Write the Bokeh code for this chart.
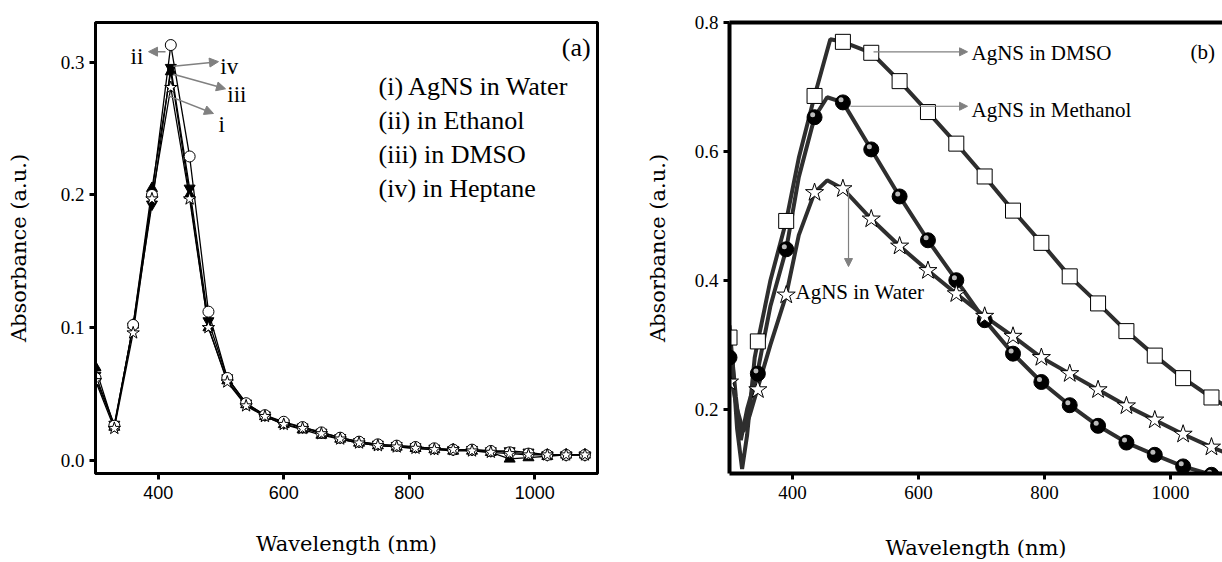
from bokeh.plotting import figure
from bokeh.layouts import row
from bokeh.models import FixedTicker, PrintfTickFormatter, Label, Arrow, NormalHead, LinearAxis
from bokeh.transform import dodge
from bokeh.embed import file_html
from bokeh.resources import INLINE

# ---------------- Panel (a) data ----------------
wl_a = [300, 330, 360, 390, 420, 450, 480, 510, 540, 570, 600, 630, 660, 690,
        720, 750, 780, 810, 840, 870, 900, 930, 960, 990, 1020, 1050, 1080]
a_water = [0.060, 0.024, 0.096, 0.197, 0.281, 0.197, 0.100, 0.059, 0.041, 0.033, 0.027, 0.024, 0.020, 0.016,
           0.013, 0.011, 0.010, 0.009, 0.008, 0.008, 0.007, 0.006, 0.005, 0.004, 0.004, 0.004, 0.004]
a_ethanol = [0.062, 0.026, 0.102, 0.200, 0.313, 0.229, 0.112, 0.062, 0.043, 0.034, 0.029, 0.025, 0.021, 0.017,
             0.014, 0.012, 0.011, 0.010, 0.009, 0.008, 0.008, 0.007, 0.006, 0.005, 0.004, 0.004, 0.004]
a_dmso = [0.070, 0.025, 0.102, 0.205, 0.293, 0.200, 0.100, 0.060, 0.042, 0.033, 0.027, 0.023, 0.019, 0.016,
          0.013, 0.011, 0.010, 0.009, 0.008, 0.007, 0.007, 0.006, 0.001, 0.002, 0.003, 0.004, 0.004]
a_heptane = [0.064, 0.027, 0.101, 0.193, 0.296, 0.205, 0.105, 0.062, 0.043, 0.034, 0.028, 0.025, 0.021, 0.017,
             0.014, 0.012, 0.011, 0.010, 0.009, 0.008, 0.008, 0.007, 0.007, 0.006, 0.004, 0.004, 0.004]
a_legend = ["(i) AgNS in Water", "(ii) in Ethanol", "(iii) in DMSO", "(iv) in Heptane"]
a_xticks = [400, 600, 800, 1000]
a_yticks = [0.0, 0.1, 0.2, 0.3]

# ---------------- Panel (b) data ----------------
wl_b = [300, 345, 390, 435, 480, 525, 570, 615, 660, 705, 750, 795, 840, 885, 930, 975, 1020, 1065]
b_dmso = [0.311, 0.305, 0.492, 0.686, 0.770, 0.753, 0.709, 0.661, 0.612, 0.561, 0.508, 0.458,
          0.406, 0.364, 0.321, 0.283, 0.248, 0.218]
b_methanol = [0.280, 0.255, 0.448, 0.653, 0.676, 0.603, 0.530, 0.462, 0.400, 0.338, 0.286, 0.242,
              0.206, 0.174, 0.148, 0.129, 0.111, 0.098]
b_water = [0.242, 0.230, 0.377, 0.536, 0.542, 0.495, 0.453, 0.415, 0.379, 0.344, 0.313, 0.280,
           0.255, 0.230, 0.205, 0.183, 0.161, 0.141]
# traced curve points (lines)
lb_dmso_x = [300, 305, 312, 320, 328, 340, 345, 365, 390, 410, 435, 460, 480, 525, 570, 615, 660, 705,
             750, 795, 840, 885, 930, 975, 1020, 1065, 1090]
lb_dmso_y = [0.330, 0.270, 0.170, 0.107, 0.160, 0.280, 0.305, 0.400, 0.492, 0.590, 0.686, 0.774, 0.770,
             0.753, 0.709, 0.661, 0.612, 0.561, 0.508, 0.458, 0.406, 0.364, 0.321, 0.283, 0.248, 0.218, 0.203]
lb_meth_x = [300, 304, 310, 318, 328, 344, 365, 390, 410, 435, 455, 480, 525, 570, 615, 660, 705,
             750, 795, 840, 885, 930, 975, 1020, 1065, 1090]
lb_meth_y = [0.300, 0.283, 0.220, 0.152, 0.200, 0.255, 0.360, 0.448, 0.560, 0.653, 0.684, 0.676, 0.603,
             0.530, 0.462, 0.400, 0.338, 0.286, 0.242, 0.206, 0.174, 0.148, 0.129, 0.111, 0.098, 0.092]
lb_water_x = [300, 304, 312, 322, 332, 344, 365, 390, 410, 435, 455, 480, 525, 570, 615, 660, 705,
              750, 795, 840, 885, 930, 975, 1020, 1065, 1090]
lb_water_y = [0.260, 0.242, 0.200, 0.165, 0.190, 0.230, 0.300, 0.377, 0.470, 0.536, 0.555, 0.542, 0.495,
              0.453, 0.415, 0.379, 0.344, 0.313, 0.280, 0.255, 0.230, 0.205, 0.183, 0.161, 0.141, 0.131]
b_xticks = [400, 600, 800, 1000]
b_yticks = [0.2, 0.4, 0.6, 0.8]
x_title = "Wavelength (nm)"
y_title = "Absorbance (a.u.)"

TNR = "Times New Roman"
TITLE_FONT = "DejaVu Serif"
LSERIF = "Liberation Serif"


def style_axis(ax, tick_font, tick_size, lw):
    ax.axis_line_width = lw
    ax.axis_line_color = "black"
    ax.major_tick_line_width = 3
    ax.major_tick_line_color = "black"
    ax.major_tick_out = 6
    ax.major_tick_in = 0
    ax.minor_tick_line_color = None
    ax.major_label_text_color = "black"
    ax.major_label_text_font = tick_font
    ax.major_label_text_font_size = tick_size
    ax.axis_label_text_font = TITLE_FONT
    ax.axis_label_text_font_style = "normal"
    ax.axis_label_text_font_size = "21px"
    ax.axis_label_text_color = "black"


# ---------------- figure (a) ----------------
p1 = figure(width=630, height=562, x_range=(300, 1100), y_range=(-0.01, 0.33),
            output_backend="svg", toolbar_location=None,
            min_border_left=95, min_border_right=33, min_border_top=17, min_border_bottom=84)
p1.outline_line_color = "black"
p1.outline_line_width = 3
p1.xgrid.visible = False
p1.ygrid.visible = False
xa1 = p1.below[0]
ya1 = p1.left[0]
style_axis(xa1, "Liberation Sans", "18px", 3)
style_axis(ya1, TNR, "19px", 3)
xa1.ticker = FixedTicker(ticks=a_xticks)
ya1.ticker = FixedTicker(ticks=a_yticks)
ya1.formatter = PrintfTickFormatter(format="%.1f")
xa1.major_label_standoff = 6
ya1.major_label_standoff = 5
xa1.axis_label = x_title
ya1.axis_label = y_title
xa1.axis_label_standoff = 30
ya1.axis_label_standoff = 27

for ys in (a_water, a_ethanol, a_dmso, a_heptane):
    p1.line(wl_a, ys, line_color="black", line_width=1.3)
p1.scatter(wl_a, a_dmso, marker="triangle", size=11, fill_color="black", line_color="black")
p1.scatter(wl_a, a_heptane, marker="inverted_triangle", size=11, fill_color="black", line_color="black")
p1.scatter(wl_a, a_ethanol, marker="circle", size=11, fill_color="white", line_color="black", line_width=1)
p1.scatter(wl_a, a_water, marker="star", size=13, fill_color="white", line_color="black", line_width=1)

for i, t in enumerate(a_legend):
    p1.add_layout(Label(x=751, y=[0.282, 0.2562, 0.2304, 0.2046][i], text=t, text_font=LSERIF,
                        text_font_size="26px", text_baseline="middle", text_color="black"))
p1.add_layout(Label(x=1089, y=0.3108, text="(a)", text_font=LSERIF, text_font_size="26px",
                    text_baseline="middle", text_align="right", text_color="black"))

arrow_specs_a = [
    ((411.6, 0.308), (384.5, 0.308), "ii", (355.8, 0.304)),
    ((424.3, 0.297), (496.0, 0.3005), "iv", (499.0, 0.297)),
    ((424.3, 0.291), (507.2, 0.280), "iii", (510.0, 0.276)),
    ((416.3, 0.2747), (488.0, 0.2614), "i", (496.0, 0.253)),
]
for (xs, ys), (xe, ye), t, (tx, ty) in arrow_specs_a:
    p1.add_layout(Arrow(end=NormalHead(size=9, fill_color="#808080", line_color="#808080"),
                        x_start=xs, y_start=ys, x_end=xe, y_end=ye,
                        line_color="#808080", line_width=1.5))
    p1.add_layout(Label(x=tx, y=ty, text=t, text_font=LSERIF, text_font_size="23px",
                        text_baseline="middle", text_color="black"))

# ---------------- figure (b) ----------------
p2 = figure(width=592, height=562, x_range=(300, 1082.5), y_range=(0.1, 0.8),
            output_backend="svg", toolbar_location=None,
            min_border_left=99, min_border_right=0, min_border_top=22, min_border_bottom=78)
p2.outline_line_color = None
p2.xgrid.visible = False
p2.ygrid.visible = False
xa2 = p2.below[0]
ya2 = p2.left[0]
top_axis = LinearAxis(ticker=FixedTicker(ticks=[]), major_tick_line_color=None,
                      minor_tick_line_color=None, major_label_standoff=0,
                      major_tick_out=0, axis_line_width=4, axis_line_color="black")
p2.add_layout(top_axis, "above")
style_axis(xa2, TNR, "19px", 4)
style_axis(ya2, TNR, "19px", 4)
xa2.ticker = FixedTicker(ticks=b_xticks)
ya2.ticker = FixedTicker(ticks=b_yticks)
ya2.formatter = PrintfTickFormatter(format="%.1f")
xa2.major_label_standoff = 6
ya2.major_label_standoff = 5
xa2.axis_label = x_title
ya2.axis_label = y_title
xa2.axis_label_standoff = 34
ya2.axis_label_standoff = 22

LC = "#2e2e2e"
p2.line(lb_dmso_x, lb_dmso_y, line_color=LC, line_width=4)
p2.line(lb_meth_x, lb_meth_y, line_color=LC, line_width=4)
p2.line(lb_water_x, lb_water_y, line_color=LC, line_width=4)
p2.scatter(wl_b, b_dmso, marker="square", size=15, fill_color="white", line_color="black", line_width=1)
p2.scatter(wl_b, b_methanol, marker="circle", size=15, fill_color="black", line_color="black")
p2.scatter(x=dodge("x", -3, range=p2.x_range), y=dodge("y", 0.004, range=p2.y_range),
           source=dict(x=wl_b, y=b_methanol), marker="circle", size=5,
           fill_color="#bbbbbb", line_color=None)
p2.scatter(wl_b, b_water, marker="star", size=19, fill_color="white", line_color="black", line_width=1)

arrow_specs_b = [
    ((528.6, 0.7545), (677.8, 0.7545)),
    ((492.0, 0.670), (677.8, 0.670)),
    ((488.9, 0.5424), (488.9, 0.4212)),
]
for (xs, ys), (xe, ye) in arrow_specs_b:
    p2.add_layout(Arrow(end=NormalHead(size=8, fill_color="#808080", line_color="#808080"),
                        x_start=xs, y_start=ys, x_end=xe, y_end=ye,
                        line_color="#808080", line_width=1.2))
for tx, ty, t in [(684.1, 0.7530, "AgNS in DMSO"), (684.1, 0.664, "AgNS in Methanol"),
                  (404.8, 0.3818, "AgNS in Water"), (1031.7, 0.7545, "(b)")]:
    p2.add_layout(Label(x=tx, y=ty, text=t, text_font=LSERIF, text_font_size="21px",
                        text_baseline="middle", text_color="black"))

layout = row(p1, p2)
open("out.html", "w").write(file_html(layout, INLINE))
